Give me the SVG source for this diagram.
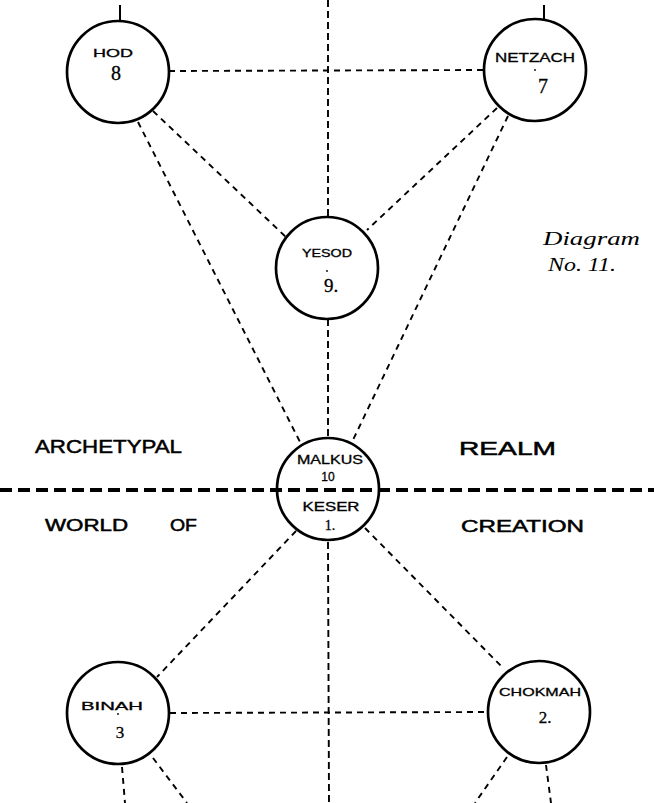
<svg xmlns="http://www.w3.org/2000/svg" width="654" height="803" viewBox="0 0 654 803">
<style>
.bg{fill:#fff}
.node{fill:none;stroke:#000;stroke-width:2.7}
.dash{fill:none;stroke:#000;stroke-width:1.9;stroke-dasharray:6 5}
.vdash{fill:none;stroke:#000;stroke-width:1.9;stroke-dasharray:7 4}
.thick{fill:none;stroke:#000;stroke-width:3.8;stroke-dasharray:12 6}
.tick{stroke:#000;stroke-width:2}
.lbl{font-family:"Liberation Sans",Arial,sans-serif;fill:#000;stroke:#000;stroke-width:0.3;text-anchor:middle}
.num{font-family:"Liberation Serif","Times New Roman",serif;fill:#000;stroke:#000;stroke-width:0.3;text-anchor:middle}
.big{font-family:"Liberation Sans",Arial,sans-serif;fill:#000;stroke:#000;stroke-width:0.5}
.ital{font-family:"Liberation Serif","Times New Roman",serif;font-style:italic;font-size:18px;fill:#000}
</style>
<rect class="bg" width="654" height="803"/>
<g id="connectors">
  <line class="vdash" x1="328" y1="0" x2="328" y2="217"/>
  <line class="vdash" x1="328" y1="319" x2="328" y2="437"/>
  <line class="vdash" x1="328" y1="542" x2="329" y2="803"/>
  <line class="dash" x1="169" y1="71" x2="484" y2="70"/>
  <line class="dash" x1="138" y1="122" x2="300" y2="442"/>
  <line class="dash" x1="153" y1="111" x2="287" y2="238"/>
  <line class="dash" x1="497" y1="108" x2="367" y2="230"/>
  <line class="dash" x1="508" y1="116" x2="353" y2="440"/>
  <line class="thick" x1="0" y1="490" x2="654" y2="490"/>
  <line class="dash" x1="296" y1="531" x2="157" y2="677"/>
  <line class="dash" x1="365" y1="528" x2="504" y2="669"/>
  <line class="dash" x1="170" y1="713" x2="488" y2="712"/>
  <line class="dash" x1="122" y1="767" x2="125" y2="803"/>
  <line class="dash" x1="153" y1="758" x2="187" y2="803"/>
  <line class="dash" x1="507" y1="757" x2="475" y2="803"/>
  <line class="dash" x1="546" y1="765" x2="551" y2="803"/>
  <line class="tick" x1="120" y1="5" x2="120" y2="22"/>
  <line class="tick" x1="544" y1="5" x2="544" y2="20"/>
</g>
<g id="hod">
  <circle class="node" cx="118" cy="72" r="51"/>
  <text class="lbl" x="113" y="57" style="font-size:11px" textLength="40" lengthAdjust="spacingAndGlyphs">HOD</text>
  <text class="num" x="116" y="80" style="font-size:20px">8</text>
</g>
<g id="netzach">
  <circle class="node" cx="535" cy="70" r="51"/>
  <text class="lbl" x="535" y="62" style="font-size:12px" textLength="80" lengthAdjust="spacingAndGlyphs">NETZACH</text>
  <circle cx="535" cy="70" r="0.9" fill="#000"/>
  <text class="num" x="543" y="93" style="font-size:20px">7</text>
</g>
<g id="yesod">
  <circle class="node" cx="327" cy="268" r="51"/>
  <text class="lbl" x="327" y="257" style="font-size:10px" textLength="50" lengthAdjust="spacingAndGlyphs">YESOD</text>
  <circle cx="327" cy="271" r="0.9" fill="#000"/>
  <text class="num" x="331" y="292" style="font-size:19px">9.</text>
</g>
<g id="malkuth-kether">
  <circle class="node" cx="328" cy="489" r="51"/>
  <text class="lbl" x="330" y="464" style="font-size:12px" textLength="66" lengthAdjust="spacingAndGlyphs">MALKUS</text>
  <text class="lbl" x="328" y="481" style="font-size:12px">10</text>
  <text class="lbl" x="331" y="511" style="font-size:12px" textLength="57" lengthAdjust="spacingAndGlyphs">KESER</text>
  <text class="num" x="330" y="530" style="font-size:14px">1.</text>
</g>
<g id="binah">
  <circle class="node" cx="118" cy="713" r="51"/>
  <text class="lbl" x="112" y="710" style="font-size:11px" textLength="62" lengthAdjust="spacingAndGlyphs">BINAH</text>
  <circle cx="118" cy="714" r="0.9" fill="#000"/>
  <text class="num" x="120" y="738" style="font-size:17px">3</text>
</g>
<g id="chokmah">
  <circle class="node" cx="539" cy="712" r="51"/>
  <text class="lbl" x="540" y="696" style="font-size:11px" textLength="82" lengthAdjust="spacingAndGlyphs">CHOKMAH</text>
  <text class="num" x="545" y="723" style="font-size:17px">2.</text>
</g>
<g id="labels">
  <text class="big" x="35" y="453" style="font-size:19px" textLength="147" lengthAdjust="spacingAndGlyphs">ARCHETYPAL</text>
  <text class="big" x="459" y="455" style="font-size:19px" textLength="97" lengthAdjust="spacingAndGlyphs">REALM</text>
  <text class="big" x="45" y="531" style="font-size:16px" textLength="83" lengthAdjust="spacingAndGlyphs">WORLD</text>
  <text class="big" x="170" y="531" style="font-size:16px" textLength="27" lengthAdjust="spacingAndGlyphs">OF</text>
  <text class="big" x="461" y="532" style="font-size:16px" textLength="123" lengthAdjust="spacingAndGlyphs">CREATION</text>
  <text class="ital" x="543" y="245" textLength="97" lengthAdjust="spacingAndGlyphs">Diagram</text>
  <text class="ital" x="548" y="271" textLength="68" lengthAdjust="spacingAndGlyphs">No. 11.</text>
</g>
</svg>
